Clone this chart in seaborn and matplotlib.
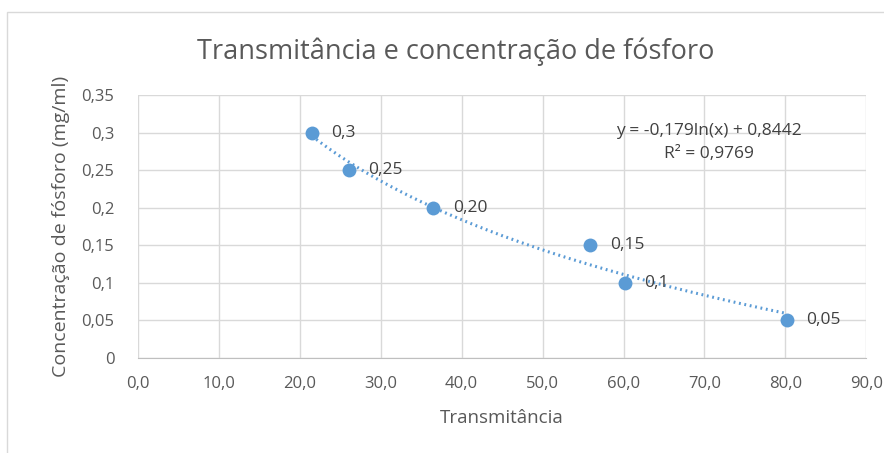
import numpy as np
import pandas as pd
import matplotlib.pyplot as plt
import seaborn as sns

# data
transmitancia = [21.5, 26.1, 36.5, 55.9, 60.2, 80.2]
concentracao = [0.30, 0.25, 0.20, 0.15, 0.10, 0.05]
rotulos = ['0,3', '0,25', '0,20', '0,15', '0,1', '0,05']
xticks = [0, 10, 20, 30, 40, 50, 60, 70, 80, 90]
yticks = [0, 0.05, 0.1, 0.15, 0.2, 0.25, 0.3, 0.35]
ytick_labels = ['0', '0,05', '0,1', '0,15', '0,2', '0,25', '0,3', '0,35']

df = pd.DataFrame({'x': transmitancia, 'y': concentracao})

sns.set_style('white')
plt.rcParams['font.family'] = ['Open Sans', 'DejaVu Sans']
cinza = '#595959'
azul = '#5B9BD5'

fig = plt.figure(figsize=(8.84, 4.53), dpi=100)
ax = fig.add_axes([0.156, 0.21, 0.824, 0.58])

# logarithmic trendline fitted to the points
a, b = np.polyfit(np.log(df['x']), df['y'], 1)
xs = np.linspace(df['x'].min(), df['x'].max(), 200)
trend = pd.DataFrame({'x': xs, 'y': a * np.log(xs) + b})
sns.lineplot(data=trend, x='x', y='y', ax=ax, color=azul, lw=2.2,
             linestyle=(0, (0.6, 1.2)), zorder=2)

sns.scatterplot(data=df, x='x', y='y', ax=ax, color=azul, s=100,
                edgecolor=azul, linewidth=0, zorder=3)

for xv, yv, lab in zip(transmitancia, concentracao, rotulos):
    ax.annotate(lab, (xv, yv), xytext=(14, 0), textcoords='offset points',
                va='center', ha='left', fontsize=12.5, color='#404040')

ax.text(0.784, 0.82, 'y = -0,179ln(x) + 0,8442\nR² = 0,9769',
        transform=ax.transAxes, ha='center', va='center', fontsize=12.5,
        color='#404040', linespacing=1.6)

ax.set_xlim(0, 90)
ax.set_ylim(0, 0.35)
ax.set_xticks(xticks)
ax.set_xticklabels([f'{v:.1f}'.replace('.', ',') for v in xticks])
ax.set_yticks(yticks)
ax.set_yticklabels(ytick_labels)
ax.grid(True, color='#d9d9d9', lw=1)
ax.tick_params(axis='both', length=0, labelsize=12, labelcolor=cinza)
ax.tick_params(axis='y', pad=17)
ax.tick_params(axis='x', pad=13)
for side in ['top', 'right', 'left']:
    ax.spines[side].set_visible(False)
ax.spines['bottom'].set_color('#bfbfbf')
ax.set_xlabel('Transmitância', fontsize=13.5, color=cinza, labelpad=12)
ax.set_ylabel('Concentração de fósforo (mg/ml)', fontsize=14, color=cinza, labelpad=8)

fig.text(0.515, 0.885, 'Transmitância e concentração de fósforo',
         ha='center', va='center', fontsize=19.5, color=cinza)

# chart frame
fig.patches.append(plt.Rectangle((0.008, -0.01), 1.0, 0.984, transform=fig.transFigure,
                                 fill=False, edgecolor='#d9d9d9', lw=1))

plt.savefig('out.png', dpi=100)
